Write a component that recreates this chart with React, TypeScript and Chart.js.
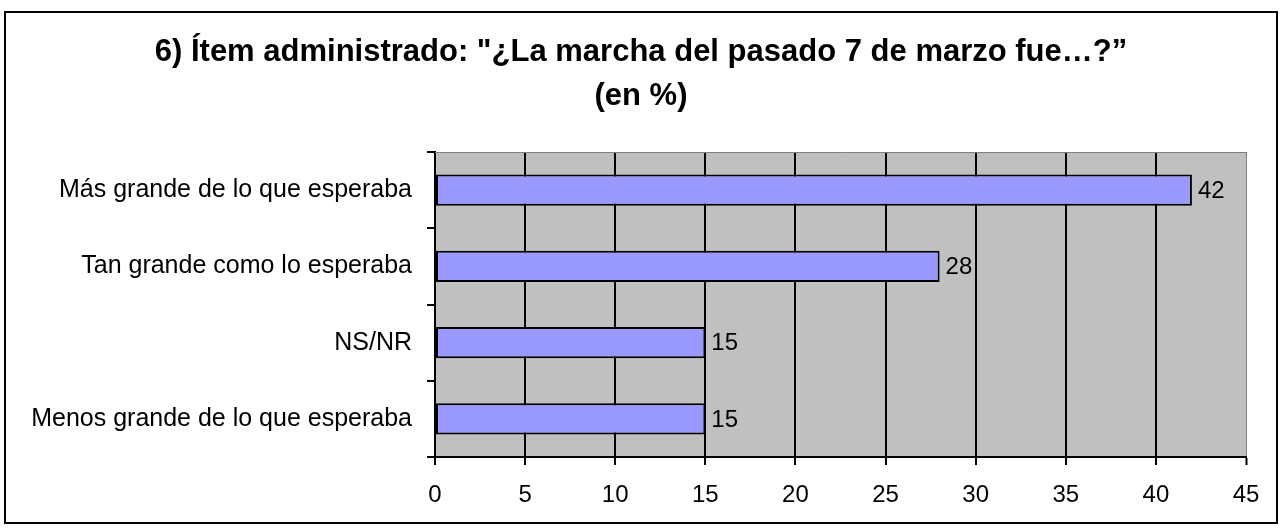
import React, { useEffect, useRef } from "react";
import { Chart, registerables } from "chart.js";

Chart.register(...registerables);

const titleLines = ['6) Ítem administrado: "¿La marcha del pasado 7 de marzo fue…?”', "(en %)"];
const categories = [
  "Más grande de lo que esperaba",
  "Tan grande como lo esperaba",
  "NS/NR",
  "Menos grande de lo que esperaba",
];
const values = [42, 28, 15, 15];
const xMin = 0;
const xMax = 45;
const xStep = 5;

const FONT = "'Liberation Sans', Arial, sans-serif";

export default function App() {
  const ref = useRef<HTMLCanvasElement | null>(null);

  useEffect(() => {
    if (!ref.current) return;
    const frame = {
      id: "frame",
      beforeDraw(chart: any) {
        const { ctx, chartArea: a } = chart;
        ctx.save();
        ctx.fillStyle = "#ffffff";
        ctx.fillRect(0, 0, chart.width, chart.height);
        ctx.fillStyle = "#C0C0C0";
        ctx.fillRect(a.left, a.top, a.right - a.left, a.bottom - a.top);
        ctx.restore();
      },
      afterDraw(chart: any) {
        const { ctx, chartArea: a } = chart;
        ctx.save();
        ctx.strokeStyle = "#808080";
        ctx.lineWidth = 1;
        ctx.beginPath();
        ctx.moveTo(a.left, a.top + 0.5);
        ctx.lineTo(a.right, a.top + 0.5);
        ctx.stroke();
        ctx.strokeStyle = "#000000";
        ctx.lineWidth = 2;
        ctx.strokeRect(5, 12, 1272, 511);
        ctx.restore();
      },
    };
    const dataLabels = {
      id: "dataLabels",
      afterDatasetsDraw(chart: any) {
        const { ctx } = chart;
        const meta = chart.getDatasetMeta(0);
        ctx.save();
        ctx.font = `24px ${FONT}`;
        ctx.fillStyle = "#000000";
        ctx.textAlign = "left";
        ctx.textBaseline = "middle";
        meta.data.forEach((bar: any, i: number) => {
          ctx.fillText(String(values[i]), bar.x + 6, bar.y + 1);
        });
        ctx.restore();
      },
    };

    const chart = new Chart(ref.current, {
      type: "bar",
      data: {
        labels: categories,
        datasets: [
          {
            data: values,
            backgroundColor: "#9999FF",
            borderColor: "#000000",
            borderWidth: 2,
            borderSkipped: false,
            barPercentage: 0.41,
            categoryPercentage: 1,
            yAxisID: "y",
          },
        ],
      },
      options: {
        indexAxis: "y",
        responsive: false,
        animation: false,
        devicePixelRatio: 1,
        layout: { padding: { left: 0, right: 0, top: 0, bottom: 0 } },
        plugins: {
          legend: { display: false },
          tooltip: { enabled: false },
          title: {
            display: true,
            text: titleLines,
            color: "#000000",
            font: { family: FONT, size: 31, weight: "bold", lineHeight: 44 / 31 },
            padding: { top: 30, bottom: 34 },
          },
        },
        scales: {
          x: {
            type: "linear",
            min: xMin,
            max: xMax,
            ticks: {
              stepSize: xStep,
              color: "#000000",
              font: { family: FONT, size: 24 },
              padding: 16,
            },
            grid: {
              color: (c: any) => (c.index === 9 ? "#808080" : "#000000"),
              lineWidth: (c: any) => (c.index === 9 ? 1 : 2),
              tickColor: "#000000",
              tickWidth: 2,
              tickLength: 8,
            },
            border: { display: true, color: "#000000", width: 2 },
            afterFit(scale: any) {
              scale.height = 73;
            },
          },
          y: {
            type: "category",
            position: "left",
            ticks: {
              color: "#000000",
              font: { family: FONT, size: 25 },
              padding: 15,
            },
            grid: {
              drawOnChartArea: false,
              offset: true,
              color: "#000000",
              lineWidth: 2,
              tickLength: 8,
            },
            border: { display: true, color: "#000000", width: 2 },
            afterFit(scale: any) {
              scale.width = 435;
            },
          },
          yRight: {
            type: "category",
            position: "right",
            labels: categories,
            ticks: { display: false },
            grid: { display: false },
            border: { display: false },
            afterFit(scale: any) {
              scale.width = 36;
            },
          },
        },
      },
      plugins: [frame, dataLabels],
    } as any);
    return () => chart.destroy();
  }, []);

  return (
    <div style={{ position: "fixed", left: 0, top: 0, width: 1282, height: 530, background: "#fff" }}>
      <canvas ref={ref} width={1282} height={530} style={{ display: "block" }} />
    </div>
  );
}
